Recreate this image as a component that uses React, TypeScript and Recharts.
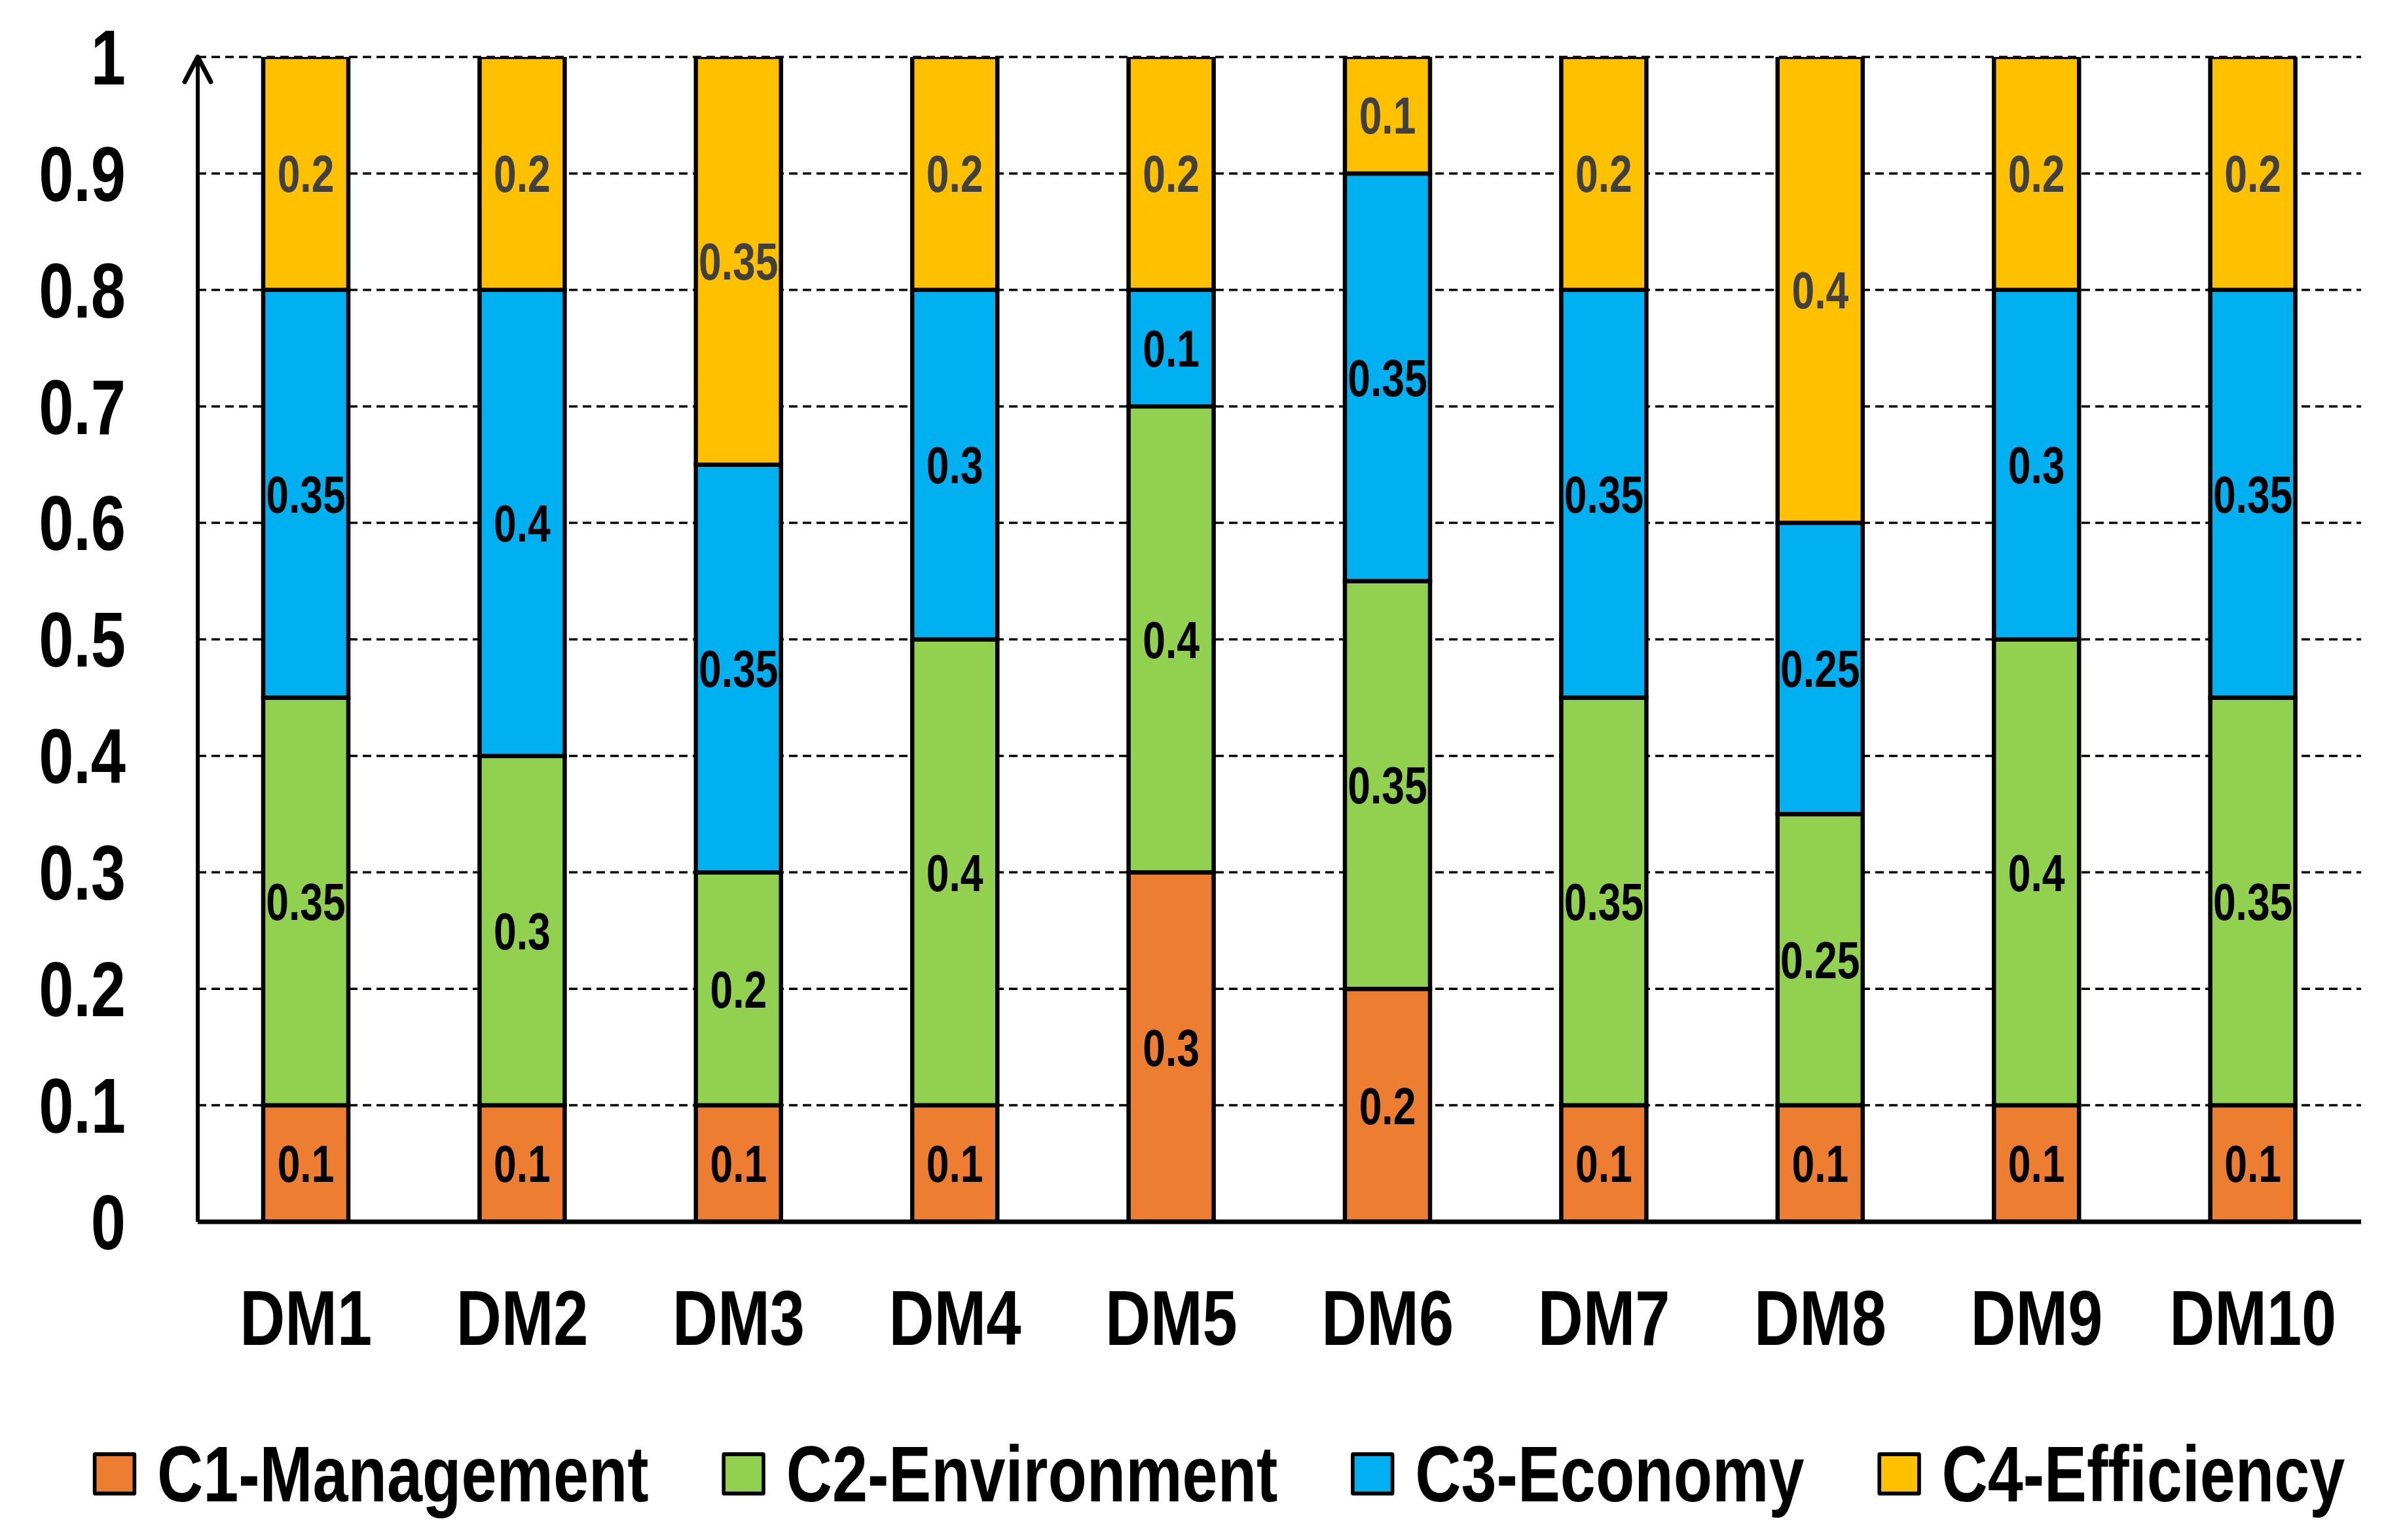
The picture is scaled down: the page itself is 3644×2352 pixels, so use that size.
import { BarChart, Bar, XAxis, YAxis, CartesianGrid, Legend, LabelList } from 'recharts';

const categories = ['DM1', 'DM2', 'DM3', 'DM4', 'DM5', 'DM6', 'DM7', 'DM8', 'DM9', 'DM10'];
const management = [0.1, 0.1, 0.1, 0.1, 0.3, 0.2, 0.1, 0.1, 0.1, 0.1];
const environment = [0.35, 0.3, 0.2, 0.4, 0.4, 0.35, 0.35, 0.25, 0.4, 0.35];
const economy = [0.35, 0.4, 0.35, 0.3, 0.1, 0.35, 0.35, 0.25, 0.3, 0.35];
const efficiency = [0.2, 0.2, 0.35, 0.2, 0.2, 0.1, 0.2, 0.4, 0.2, 0.2];
const yTicks = [0, 0.1, 0.2, 0.3, 0.4, 0.5, 0.6, 0.7, 0.8, 0.9, 1];

const series = [
  { key: 'c1', name: 'C1-Management', color: '#ED7D31', label: '#000000' },
  { key: 'c2', name: 'C2-Environment', color: '#92D050', label: '#000000' },
  { key: 'c3', name: 'C3-Economy', color: '#00B0F0', label: '#000000' },
  { key: 'c4', name: 'C4-Efficiency', color: '#FFC000', label: '#404040' },
];

const rows = categories.map((name, i) => ({
  name,
  c1: management[i],
  c2: environment[i],
  c3: economy[i],
  c4: efficiency[i],
}));

// no narrow font installed, so squeeze the bold sans horizontally
const FONT = "'Liberation Sans', Arial, sans-serif";
const SQ = 0.81;

const YTick = ({ x, y, payload }: any) => (
  <text
    transform={`translate(${x},${y}) scale(${SQ},1)`}
    textAnchor="end"
    dy="0.355em"
    fill="#000"
    fontSize={118}
    fontWeight="bold"
    fontFamily={FONT}
  >
    {payload.value}
  </text>
);

const XTick = ({ x, y, payload }: any) => (
  <text
    transform={`translate(${x},${y}) scale(${SQ},1)`}
    textAnchor="middle"
    dy="0.71em"
    fill="#000"
    fontSize={118}
    fontWeight="bold"
    fontFamily={FONT}
  >
    {payload.value}
  </text>
);

const makeLabel = (color: string) => (props: any) => {
  const { x, y, width, height, value } = props;
  const cx = Number(x) + Number(width) / 2;
  const cy = Number(y) + Number(height) / 2;
  return (
    <text
      transform={`translate(${cx},${cy}) scale(0.78,1)`}
      textAnchor="middle"
      dy="0.355em"
      fill={color}
      fontSize={80}
      fontWeight="bold"
      fontFamily={FONT}
    >
      {value}
    </text>
  );
};

const renderLegend = (props: any) => {
  const items = props.payload && props.payload.length ? props.payload : series.map((s) => ({ value: s.name, color: s.color }));
  return (
    <div style={{ height: 202, width: 3644, overflow: 'visible' }}>
      <div
        style={{
          width: 3644 / SQ,
          height: 202,
          display: 'flex',
          alignItems: 'center',
          paddingLeft: 142 / SQ,
          gap: 112 / SQ,
          boxSizing: 'border-box',
          transform: `scaleX(${SQ})`,
          transformOrigin: 'left center',
          fontFamily: FONT,
          fontWeight: 'bold',
          fontSize: 120,
          color: '#000',
          whiteSpace: 'nowrap',
        }}
      >
        {items.map((it: any) => (
          <div key={it.value} style={{ display: 'flex', alignItems: 'center' }}>
            <span
              style={{
                width: 66 / SQ,
                height: 66,
                boxSizing: 'border-box',
                borderStyle: 'solid',
                borderColor: '#000',
                borderWidth: `6px ${6 / SQ}px`,
                borderRadius: 4,
                background: it.color,
                marginRight: 32 / SQ,
              }}
            />
            <span style={{ lineHeight: 1 }}>{it.value}</span>
          </div>
        ))}
      </div>
    </div>
  );
};

export default function App() {
  return (
    <div style={{ width: 3644, height: 2352, background: '#fff', overflow: 'hidden' }}>
      <style>{`body{margin:0}`}</style>
      <BarChart
        width={3644}
        height={2352}
        data={rows}
        margin={{ top: 87, right: 38, left: 0, bottom: 0 }}
      >
        <defs>
          <marker
            id="arrowUp"
            markerUnits="userSpaceOnUse"
            orient="auto-start-reverse"
            refX={0}
            refY={0}
            markerWidth={90}
            markerHeight={90}
            viewBox="-45 -45 90 90"
            overflow="visible"
          >
            <path d="M -38 -20 L 0 0 L -38 20" fill="none" stroke="#000" strokeWidth={7} strokeLinecap="round" strokeLinejoin="round" />
          </marker>
        </defs>
        <CartesianGrid horizontal vertical={false} stroke="#000" strokeWidth={3.5} strokeDasharray="13 8" />
        <XAxis
          dataKey="name"
          height={284}
          tickLine={false}
          tickSize={0}
          tickMargin={104}
          axisLine={{ stroke: '#000', strokeWidth: 7 }}
          tick={<XTick />}
          interval={0}
        />
        <YAxis
          type="number"
          domain={[0, 1]}
          ticks={yTicks}
          allowDataOverflow
          width={302}
          tickLine={false}
          tickSize={0}
          tickMargin={110}
          axisLine={{ stroke: '#000', strokeWidth: 6, markerStart: 'url(#arrowUp)' }}
          tick={<YTick />}
        />
        <Legend verticalAlign="bottom" content={renderLegend} wrapperStyle={{ left: 0, width: 3644 }} />
        {series.map((s) => (
          <Bar
            key={s.key}
            dataKey={s.key}
            name={s.name}
            stackId="a"
            fill={s.color}
            stroke="#000"
            strokeWidth={6.5}
            barSize={130}
            isAnimationActive={false}
          >
            <LabelList dataKey={s.key} content={makeLabel(s.label)} />
          </Bar>
        ))}
      </BarChart>
    </div>
  );
}
